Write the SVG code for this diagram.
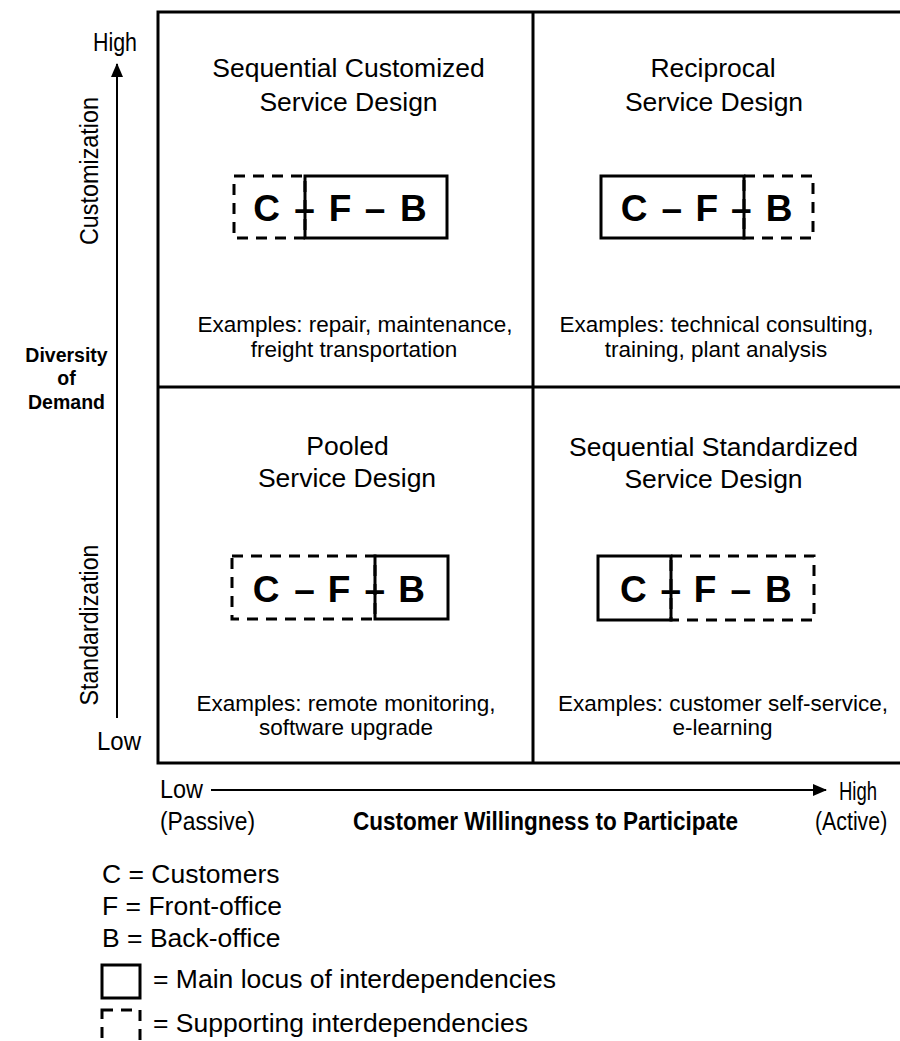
<svg xmlns="http://www.w3.org/2000/svg" width="900" height="1041" viewBox="0 0 900 1041">
  <style>
    text { font-family: "Liberation Sans", Arial, Helvetica, sans-serif; fill: #000; }
    .title { font-size: 26.5px; text-anchor: middle; }
    .ex { font-size: 22.5px; text-anchor: middle; }
    .cfb { font-size: 37px; font-weight: bold; text-anchor: middle; }
    .axis { font-size: 26px; }
    .bold { font-weight: bold; }
    .legend { font-size: 26.5px; }
    .solid { fill: none; stroke: #000; stroke-width: 3; }
    .dash { fill: none; stroke: #000; stroke-width: 3; stroke-dasharray: 11 8; }
    .frame { fill: none; stroke: #000; stroke-width: 3; }
    .axisline { stroke: #000; stroke-width: 2; fill: none; }
  </style>
  <defs>
    <marker id="arrowhead" viewBox="0 0 14 12" refX="13" refY="6" markerWidth="14" markerHeight="12" markerUnits="userSpaceOnUse" orient="auto">
      <path d="M0,0 L14,6 L0,12 Z" fill="#000"/>
    </marker>
  </defs>

  <rect width="900" height="1041" fill="#fff"/>

  <!-- 2x2 matrix frame -->
  <g id="matrix">
    <rect class="frame" x="158" y="12" width="745" height="751"/>
    <line class="frame" x1="533" y1="12" x2="533" y2="763"/>
    <line class="frame" x1="158" y1="387" x2="903" y2="387"/>
  </g>

  <!-- top-left quadrant -->
  <g id="sequential-customized">
    <text class="title" x="348.5" y="77">Sequential Customized</text>
    <text class="title" x="348.5" y="111">Service Design</text>
    <rect class="dash" x="234" y="176" width="71" height="62"/>
    <rect class="solid" x="305" y="176" width="142" height="62"/>
    <text class="cfb" y="221"><tspan x="266.7">C</tspan><tspan x="304.5">–</tspan><tspan x="340">F</tspan><tspan x="375">–</tspan><tspan x="413.3">B</tspan></text>
    <text class="ex" x="355" y="332">Examples: repair, maintenance,</text>
    <text class="ex" x="354" y="357">freight transportation</text>
  </g>

  <!-- top-right quadrant -->
  <g id="reciprocal">
    <text class="title" x="713" y="77">Reciprocal</text>
    <text class="title" x="714" y="111">Service Design</text>
    <rect class="dash" x="744" y="176" width="69" height="62"/>
    <rect class="solid" x="601" y="176" width="143" height="62"/>
    <text class="cfb" y="221"><tspan x="634">C</tspan><tspan x="671.7">–</tspan><tspan x="706.7">F</tspan><tspan x="741.3">–</tspan><tspan x="779">B</tspan></text>
    <text class="ex" x="716.5" y="332">Examples: technical consulting,</text>
    <text class="ex" x="716" y="357">training, plant analysis</text>
  </g>

  <!-- bottom-left quadrant -->
  <g id="pooled">
    <text class="title" x="347.5" y="455">Pooled</text>
    <text class="title" x="347" y="487">Service Design</text>
    <rect class="dash" x="232" y="556" width="143" height="63"/>
    <rect class="solid" x="375" y="556" width="73" height="63"/>
    <text class="cfb" y="602"><tspan x="266">C</tspan><tspan x="304.5">–</tspan><tspan x="339">F</tspan><tspan x="374.7">–</tspan><tspan x="411.7">B</tspan></text>
    <text class="ex" x="346" y="711">Examples: remote monitoring,</text>
    <text class="ex" x="346" y="735">software upgrade</text>
  </g>

  <!-- bottom-right quadrant -->
  <g id="sequential-standardized">
    <text class="title" x="713.5" y="456">Sequential Standardized</text>
    <text class="title" x="713.5" y="488">Service Design</text>
    <rect class="dash" x="671" y="556" width="143" height="64"/>
    <rect class="solid" x="598" y="556" width="73" height="64"/>
    <text class="cfb" y="602"><tspan x="633.3">C</tspan><tspan x="670.8">–</tspan><tspan x="705">F</tspan><tspan x="740.8">–</tspan><tspan x="778.3">B</tspan></text>
    <text class="ex" x="723" y="711">Examples: customer self-service,</text>
    <text class="ex" x="722.5" y="735">e-learning</text>
  </g>

  <!-- axes -->
  <g id="axes">
    <line class="axisline" x1="117" y1="718" x2="117" y2="64" marker-end="url(#arrowhead)"/>
    <line class="axisline" x1="211" y1="790" x2="826" y2="790" marker-end="url(#arrowhead)"/>
  </g>

  <!-- vertical axis labels -->
  <g id="vertical-axis-labels">
    <text class="axis" x="93" y="51" textLength="44" lengthAdjust="spacingAndGlyphs">High</text>
    <text class="axis" x="97" y="750" textLength="44" lengthAdjust="spacingAndGlyphs">Low</text>
    <text class="axis" transform="translate(98,171) rotate(-90)" text-anchor="middle" textLength="148" lengthAdjust="spacingAndGlyphs">Customization</text>
    <text class="axis" transform="translate(98,625) rotate(-90)" text-anchor="middle" textLength="161" lengthAdjust="spacingAndGlyphs">Standardization</text>
    <text class="bold" font-size="19.5" text-anchor="middle" x="66.5" y="362">Diversity</text>
    <text class="bold" font-size="19.5" text-anchor="middle" x="66.5" y="385">of</text>
    <text class="bold" font-size="19.5" text-anchor="middle" x="66.5" y="409">Demand</text>
  </g>

  <!-- horizontal axis labels -->
  <g id="horizontal-axis-labels">
    <text class="axis" x="160" y="798" textLength="43" lengthAdjust="spacingAndGlyphs">Low</text>
    <text class="axis" x="160" y="830" textLength="95" lengthAdjust="spacingAndGlyphs">(Passive)</text>
    <text class="axis" x="839" y="800" textLength="38" lengthAdjust="spacingAndGlyphs">High</text>
    <text class="axis" transform="translate(815,830) scale(0.82,1)" x="0" y="0">(Active)</text>
    <text class="axis bold" x="353" y="830" textLength="385" lengthAdjust="spacingAndGlyphs">Customer Willingness to Participate</text>
  </g>

  <!-- legend -->
  <g id="legend">
    <text class="legend" x="102" y="883">C = Customers</text>
    <text class="legend" x="102" y="915">F = Front-office</text>
    <text class="legend" x="102" y="947">B = Back-office</text>
    <rect class="solid" x="102" y="965" width="38" height="33" stroke-width="2.5"/>
    <text class="legend" x="153" y="988">= Main locus of interdependencies</text>
    <rect class="dash" x="102" y="1010" width="38" height="33" stroke-width="2.5" stroke-dasharray="8 6"/>
    <text class="legend" x="153" y="1032">= Supporting interdependencies</text>
  </g>
</svg>
